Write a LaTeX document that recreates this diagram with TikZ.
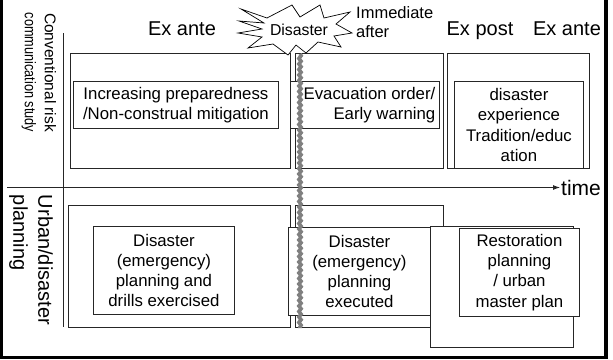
\documentclass[tikz,border=0pt]{standalone}
\usepackage{fontspec}
\setmainfont{Liberation Sans}
\usetikzlibrary{arrows.meta,decorations.pathmorphing}

\newcommand{\bxfont}{\fontsize{16.8}{20.3}\selectfont}
\newcommand{\hdfont}{\fontsize{20}{23}\selectfont}

\begin{document}
\begin{tikzpicture}[x=1pt,y=-1pt,
  framefine/.style={line width=3.2pt, black},
  boxline/.style={draw=black!85, line width=0.9pt, fill=white, inner sep=0pt, anchor=north west},
  outerbox/.style={boxline},
  innerbox/.style={boxline, align=center, font=\bxfont},
  header/.style={font=\hdfont, anchor=base, inner sep=0pt},
  axisline/.style={line width=0.9pt, black!85},
  cutline/.style={line width=3.6pt, gray, decorate,
    decoration={snake, amplitude=1.1pt, segment length=5.5pt}},
  burst/.style={draw=black, line width=0.7pt, fill=white, line join=miter},
]
\useasboundingbox (0,0) rectangle (613,359);

% outer frame, open at the top
\draw[framefine] (1.6,-5) -- (1.6,357.5) -- (606,357.5) -- (606,-5);

% axes
\coordinate (vtop) at (63,33);
\coordinate (vbot) at (63,327);
\coordinate (hstart) at (7,187.5);
\draw[axisline] (vtop) -- (vbot);
\node[font=\fontsize{21}{24}\selectfont, anchor=west, inner sep=1pt] (time) at (560,187.5) {time};
\draw[axisline, -{Latex[length=7pt,width=5pt]}] (hstart) -- (time.west);

% row labels
\node[rotate=-90, align=center, font=\fontsize{15.5}{20}\selectfont, inner sep=0pt] (rowrisk) at (39,72.5)
  {Conventional risk\\\scalebox{0.82}[1]{communication study}};
\node[rotate=-90, align=left, font=\fontsize{20}{25}\selectfont, inner sep=0pt] (rowplan) at (31,260)
  {Urban/disaster\\planning};

% upper row: risk communication
\node[outerbox, minimum width=220pt, minimum height=115pt] (ante1) at (70,53) {};
\node[outerbox, minimum width=148pt, minimum height=115pt] (imm1) at (295,53) {};
\node[outerbox, minimum width=142pt, minimum height=115pt] (post1) at (447,53) {};

\node[innerbox, minimum width=205pt, minimum height=47pt] (prep) at (73,81)
  {Increasing preparedness\\/Non-construal mitigation};
\node[innerbox, minimum width=149pt, minimum height=47pt] (evacbox) at (290,81) {};
\node[font=\bxfont, align=right, anchor=east, inner sep=0pt] (evac) at (435.5,105)
  {Evacuation order/\\Early warning};
\node[innerbox, minimum width=129pt, minimum height=87pt] (exper) at (454,81)
  {disaster\\experience\\Tradition/educ\\ation};

% lower row: urban / disaster planning
\node[outerbox, minimum width=222pt, minimum height=122pt] (ante2) at (68,205) {};
\node[outerbox, minimum width=148pt, minimum height=122pt] (imm2) at (295,205) {};
\node[innerbox, minimum width=141pt, minimum height=88pt] (drills) at (93,226)
  {Disaster\\(emergency)\\planning and\\drills exercised};
\node[innerbox, minimum width=142pt, minimum height=88pt] (exec) at (288,227)
  {Disaster\\(emergency)\\planning\\executed};
\node[outerbox, minimum width=143pt, minimum height=121pt] (post2) at (430,226) {};
\node[innerbox, minimum width=120pt, minimum height=88pt] (resto) at (459,228)
  {Restoration\\planning\\/ urban\\master plan};

% phase headers
\node[header] (exante1) at (182,35) {Ex ante};
\node[header] (expost) at (480,35) {Ex post};
\node[header] (exante2) at (567,35) {Ex ante};

% disaster burst
\draw[burst] (241,9) -- (267,18) -- (292,5) -- (300,17) -- (320,5) -- (324,18)
  -- (350,12) -- (336,24) -- (352,33) -- (334,36) -- (341,47) -- (318,42)
  -- (306,53) -- (296,45) -- (288,55) -- (273,44) -- (248,48) -- (262,37)
  -- (238,33) -- (262,29) -- (239,21) -- (264,23) -- cycle;
\node[font=\fontsize{15.8}{18}\selectfont, anchor=base, inner sep=0pt] (disaster) at (299,35) {Disaster};
\node[font=\fontsize{16.5}{19}\selectfont, anchor=base west, inner sep=0pt] (immed) at (356,18) {Immediate};
\node[font=\fontsize{16.5}{19}\selectfont, anchor=base west, inner sep=0pt] (after) at (356,37) {after};

% the moment of the disaster cutting through both rows
\coordinate (cuttop) at (300,54);
\coordinate (cutbot) at (300,328);
\draw[cutline] (cuttop) -- (cutbot);
\end{tikzpicture}
\end{document}
